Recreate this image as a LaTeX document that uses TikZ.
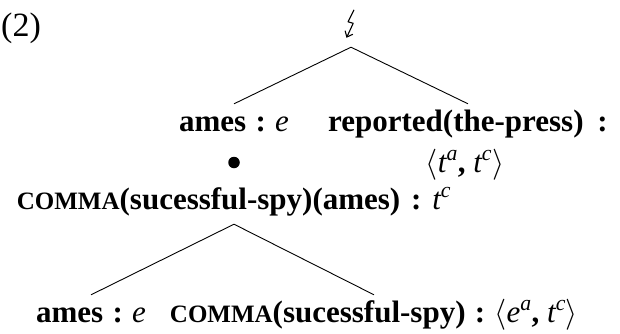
\RequirePackage{fix-cm}
\documentclass[tikz,border=0pt]{standalone}
\usepackage{fontspec}
\usetikzlibrary{arrows.meta}
\setmainfont{Liberation Serif}
\newcommand{\fakesc}[1]{{\fontsize{25}{25}\selectfont\bfseries #1}}
\newcommand{\rc}{\hspace{0.3em}:\hspace{0.3em}}
\newcommand{\ti}[1]{{\mdseries\itshape #1}}
\newcommand{\tsup}[1]{\textsuperscript{\mdseries\itshape #1}}
\newcommand{\la}{$\langle$}
\newcommand{\ra}{$\rangle$}
\begin{document}
\begin{tikzpicture}[x=1pt,y=-1pt,
  lab/.style={font=\fontsize{31}{37}\selectfont\bfseries, inner xsep=0pt, inner ysep=5pt,
              text height=22pt, text depth=10pt, anchor=base},
  edge/.style={line width=0.9pt},
  bolt/.style={line width=1.1pt, line join=round, -{Straight Barb[length=5pt,width=8.5pt]}}]
\path[use as bounding box] (0,0) rectangle (620,333);

\node[anchor=base west, font=\fontsize{34}{40}\selectfont, inner sep=0pt] (num) at (1,36) {(2)};

% root: the contradiction symbol (lightning), drawn inside a named node
\node[inner sep=0pt, minimum width=10pt, minimum height=36pt] (root) at (351,29) {};
\draw[bolt, shift={(root.north)}] (3,-1) -- (-3,11) -- (2.2,12.5) -- (-4.5,27);

\node[lab] (A) at (234,131) {ames\rc\ti{e}};
\node[lab] (B) at (468,131) {reported(the-press)\hspace{0.45em}:};
\node[lab] (Bt) at (465,172) {\la\ti{t}\tsup{a}, \ti{t}\tsup{c}\ra};
\node[circle, fill, inner sep=0pt, minimum size=11.5pt] (dot) at (234,162.5) {};
\node[lab] (C) at (234,209) {\fakesc{COMMA}(sucessful-spy)(ames)\hspace{0.35em}:\hspace{0.35em}\ti{t}\tsup{c}};
\node[lab] (D) at (91,322) {ames\rc\ti{e}};
\node[lab] (E) at (374,322) {\fakesc{COMMA}(sucessful-spy)\rc\la\ti{e}\tsup{a}, \ti{t}\tsup{c}\ra};

\draw[edge] (root.south) -- (A.north);
\draw[edge] (root.south) -- (B.north);
\draw[edge] (C.south) -- (D.north);
\draw[edge] (C.south) -- (E.north);
\end{tikzpicture}
\end{document}
